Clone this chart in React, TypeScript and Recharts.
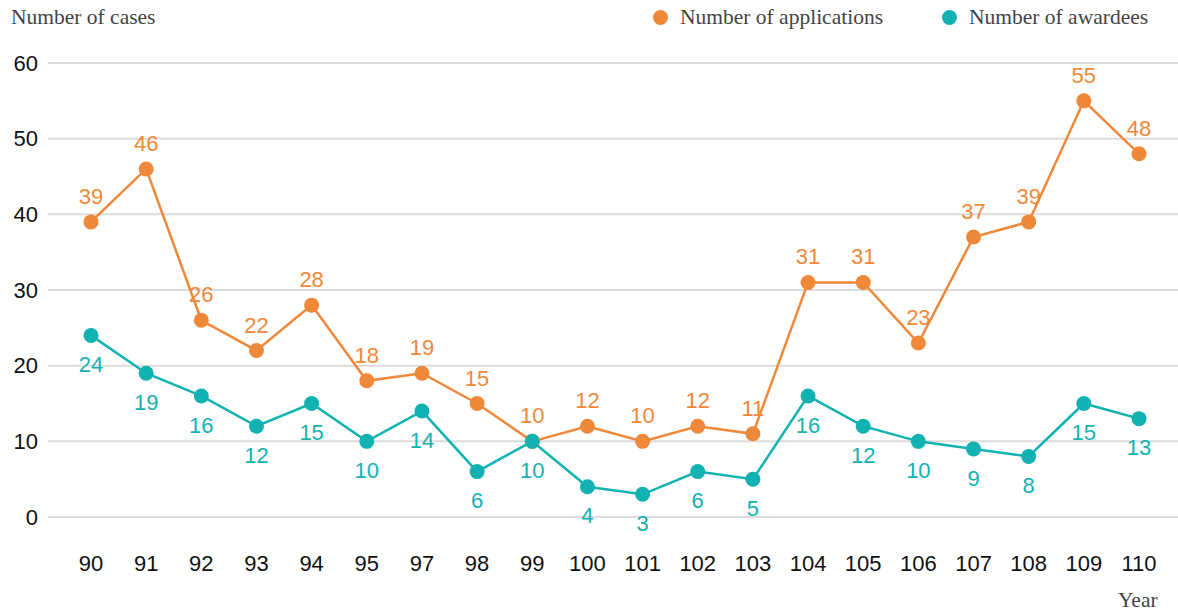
import React from "react";
import {
  LineChart,
  Line,
  XAxis,
  YAxis,
  CartesianGrid,
  LabelList,
} from "recharts";

const years = ["90", "91", "92", "93", "94", "95", "97", "98", "99", "100", "101", "102", "103", "104", "105", "106", "107", "108", "109", "110"];
const applications = [39, 46, 26, 22, 28, 18, 19, 15, 10, 12, 10, 12, 11, 31, 31, 23, 37, 39, 55, 48];
const awardees = [24, 19, 16, 12, 15, 10, 14, 6, 10, 4, 3, 6, 5, 16, 12, 10, 9, 8, 15, 13];
const yTicks = [0, 10, 20, 30, 40, 50, 60];

const ORANGE = "#F0883A";
const TEAL = "#12B2B2";
const SERIF = "'Liberation Serif', 'Times New Roman', serif";
const SANS = "'Liberation Sans', Arial, sans-serif";

const chartData = years.map((y, i) => ({
  year: y,
  applications: applications[i],
  awardees: awardees[i],
}));

const legendItems = [
  { name: "Number of applications", color: ORANGE, left: 653 },
  { name: "Number of awardees", color: TEAL, left: 942 },
];

export default function App() {
  const textStyle: React.CSSProperties = {
    position: "absolute",
    fontFamily: SERIF,
    fontSize: 21.5,
    color: "#444",
    whiteSpace: "nowrap",
    lineHeight: "24px",
  };
  return (
    <div style={{ position: "absolute", left: 0, top: 0, width: 1178, height: 612, background: "#fff" }}>
      <div style={{ ...textStyle, left: 11, top: 5 }}>Number of cases</div>
      <div style={{ ...textStyle, left: 1118, top: 588 }}>Year</div>
      {legendItems.map((it) => (
        <div key={it.name} style={{ ...textStyle, left: it.left, top: 5, display: "flex", alignItems: "center" }}>
          <span
            style={{
              width: 15,
              height: 15,
              borderRadius: 8,
              background: it.color,
              display: "inline-block",
              marginRight: 12,
            }}
          />
          {it.name}
        </div>
      ))}
      <LineChart
        width={1178}
        height={612}
        data={chartData}
        margin={{ top: 63, right: 0, bottom: 0, left: 0 }}
      >
        <CartesianGrid vertical={false} stroke="#dcdcdc" strokeWidth={2} />
        <XAxis
          dataKey="year"
          height={95}
          padding={{ left: 43, right: 39 }}
          axisLine={false}
          tickLine={false}
          tickSize={0}
          tickMargin={38}
          interval={0}
          tick={{ fill: "#111", fontSize: 22, fontFamily: SANS }}
        />
        <YAxis
          width={48}
          domain={[0, 60]}
          ticks={yTicks}
          axisLine={false}
          tickLine={false}
          tickSize={0}
          tickMargin={10}
          tick={{ fill: "#111", fontSize: 22, fontFamily: SANS }}
        />
        <Line
          dataKey="applications"
          name="Number of applications"
          stroke={ORANGE}
          strokeWidth={2.5}
          dot={{ r: 7.5, fill: ORANGE, stroke: ORANGE, strokeWidth: 0 }}
          isAnimationActive={false}
        >
          <LabelList
            dataKey="applications"
            position="top"
            offset={18}
            fill={ORANGE}
            fontSize={22}
            fontFamily={SANS}
          />
        </Line>
        <Line
          dataKey="awardees"
          name="Number of awardees"
          stroke={TEAL}
          strokeWidth={2.5}
          dot={{ r: 7.5, fill: TEAL, stroke: TEAL, strokeWidth: 0 }}
          isAnimationActive={false}
        >
          <LabelList
            dataKey="awardees"
            position="bottom"
            offset={21}
            fill={TEAL}
            fontSize={22}
            fontFamily={SANS}
          />
        </Line>
      </LineChart>
    </div>
  );
}
